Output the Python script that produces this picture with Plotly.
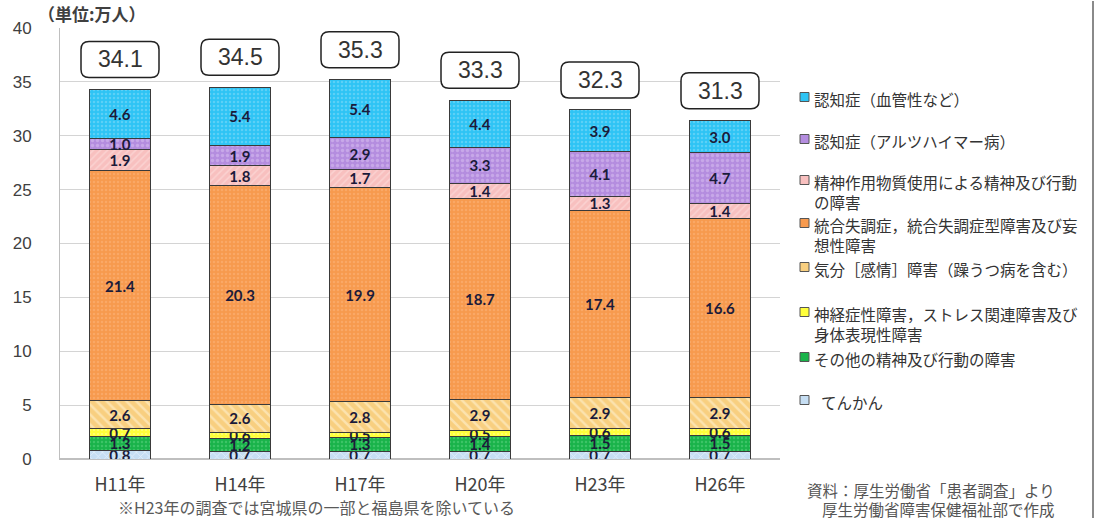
import plotly.graph_objects as go

years = ["H11年", "H14年", "H17年", "H20年", "H23年", "H26年"]
totals = [34.1, 34.5, 35.3, 33.3, 32.3, 31.3]

tenkan = [0.8, 0.7, 0.7, 0.7, 0.7, 0.7]
sonota = [1.3, 1.2, 1.3, 1.4, 1.5, 1.5]
shinkei = [0.7, 0.6, 0.5, 0.5, 0.6, 0.6]
kibun = [2.6, 2.6, 2.8, 2.9, 2.9, 2.9]
togo = [21.4, 20.3, 19.9, 18.7, 17.4, 16.6]
seishin = [1.9, 1.8, 1.7, 1.4, 1.3, 1.4]
alz = [1.0, 1.9, 2.9, 3.3, 4.1, 4.7]
kekkan = [4.6, 5.4, 5.4, 4.4, 3.9, 3.0]

series_names = [
    "てんかん",
    "その他の精神及び行動の障害",
    "神経症性障害，ストレス関連障害及び<br>身体表現性障害",
    "気分［感情］障害（躁うつ病を含む）",
    "統合失調症，統合失調症型障害及び妄<br>想性障害",
    "精神作用物質使用による精神及び行動<br>の障害",
    "認知症（アルツハイマー病）",
    "認知症（血管性など）",
]
series_values = [tenkan, sonota, shinkei, kibun, togo, seishin, alz, kekkan]

# style (bgcolor, fgcolor, shape, size, solidity)
styles = [
    ("#c6def3", "#ffffff", "x", 6, 0.25),
    ("#19b34a", "#5fd184", ".", 4, 0.3),
    ("#ffff3c", "#ffffc0", ".", 4, 0.2),
    ("#f8cf80", "#fff6dc", "\\", 7, 0.35),
    ("#f79a4e", "#fbb57e", ".", 4, 0.3),
    ("#f8c0bf", "#fde3e2", "/", 5, 0.3),
    ("#b48ddf", "#d9c4f2", ".", 5, 0.35),
    ("#2ec4f4", "#8adcf8", ".", 4, 0.3),
]
swatch_colors = ["#c6def3", "#19b34a", "#ffff3c", "#f8cf80", "#f79a4e", "#f8c0bf", "#b48ddf", "#2ec4f4"]

fig = go.Figure()
for name, vals, st in zip(series_names, series_values, styles):
    bg, fg, shp, sz, sol = st
    fig.add_trace(go.Bar(
        x=years, y=vals, name=name,
        width=0.51,
        marker=dict(color=bg, line=dict(color="#3a3a3a", width=1),
                    pattern=dict(shape=shp, bgcolor=bg, fgcolor=fg, size=sz,
                                 solidity=sol, fillmode="overlay")),
        text=[f"{v:.1f}" for v in vals],
        textposition="inside", insidetextanchor="middle", textangle=0,
        textfont=dict(family="Lato", size=15, color="#1b1b3a", weight="bold"),
        showlegend=False,
    ))

W, H = 1099, 519
L, R, T, B = 60, 319, 28, 60
pw, ph = W - L - R, H - T - B

def px2x(px):
    return (px - L) / pw

def px2y(py):
    return (H - B - py) / ph

# total boxes (rounded rectangles anchored at each total, pixel-sized)
box_path = ("M -31,48 L 31,48 Q 39,48 39,40 L 39,20 Q 39,12 31,12 "
            "L -31,12 Q -39,12 -39,20 L -39,40 Q -39,48 -31,48 Z")
for i, t in enumerate(totals):
    top = sum(v[i] for v in series_values)
    fig.add_shape(type="path", xref="x", yref="y", xsizemode="pixel", ysizemode="pixel",
                  xanchor=i, yanchor=top, path=box_path,
                  line=dict(color="#222222", width=1.5), fillcolor="white")
    fig.add_annotation(x=years[i], y=top, text=f"{t:.1f}",
                       showarrow=False, yshift=30, yanchor="middle",
                       font=dict(family="Liberation Sans", size=23, color="#333333"))

# legend (manual, fixed pitch rows like the original)
legend_rows_py = [97, 139, 180, 223, 267, 312, 357, 400]
legend_order = list(range(7, -1, -1))
for row_py, idx in zip(legend_rows_py, legend_order):
    fig.add_shape(type="rect", xref="paper", yref="paper",
                  x0=px2x(800), x1=px2x(809), y0=px2y(row_py + 4.5), y1=px2y(row_py - 4.5),
                  line=dict(color="#555555", width=1), fillcolor=swatch_colors[idx])
    label = series_names[idx]
    if idx == 0:
        label = "  " + label
    fig.add_annotation(xref="paper", yref="paper", x=px2x(812), y=px2y(row_py - 11),
                       xanchor="left", yanchor="top", align="left", showarrow=False,
                       text=label,
                       font=dict(family="Noto Sans CJK JP", size=15.5, color="#333333"))

# right border line
fig.add_shape(type="line", xref="paper", yref="paper", x0=px2x(1093), x1=px2x(1093),
              y0=px2y(518), y1=px2y(1), line=dict(color="#8a8a8a", width=2), layer="above")

# unit label
fig.add_annotation(xref="paper", yref="paper", x=px2x(36), y=px2y(14), xanchor="left",
                   yanchor="middle", showarrow=False, text="（単位:万人）",
                   font=dict(family="Noto Sans CJK JP", size=17, color="#404040", weight="bold"))

# footnote
fig.add_annotation(xref="paper", yref="paper", x=px2x(116), y=px2y(507), xanchor="left",
                   yanchor="middle", showarrow=False,
                   text="※H23年の調査では宮城県の一部と福島県を除いている",
                   font=dict(family="Noto Sans CJK JP", size=16, color="#5a5a5a"))

# source
fig.add_annotation(xref="paper", yref="paper", x=px2x(805), y=px2y(490), xanchor="left",
                   yanchor="middle", showarrow=False,
                   text="資料：厚生労働省「患者調査」より",
                   font=dict(family="Noto Sans CJK JP", size=15.5, color="#555555"))
fig.add_annotation(xref="paper", yref="paper", x=px2x(820), y=px2y(509), xanchor="left",
                   yanchor="middle", showarrow=False,
                   text="厚生労働省障害保健福祉部で作成",
                   font=dict(family="Noto Sans CJK JP", size=15.5, color="#555555"))

fig.update_layout(
    barmode="stack",
    width=W, height=H,
    margin=dict(l=L, r=R, t=T, b=B, autoexpand=False),
    paper_bgcolor="white", plot_bgcolor="white",
    uniformtext=dict(mode="show", minsize=15),
    font=dict(family="Noto Sans CJK JP", color="#404040"),
    showlegend=False,
)
fig.update_xaxes(
    type="category", showgrid=False, showline=True, linecolor="#bfbfbf", linewidth=1,
    ticks="outside", ticklen=9, tickcolor="rgba(0,0,0,0)",
    tickfont=dict(family="Noto Sans CJK JP", size=18, color="#404040"),
    range=[-0.5, 5.5],
)
fig.update_yaxes(
    range=[0, 40], dtick=5, showgrid=True, gridcolor="#d4d4d4", gridwidth=1,
    showline=True, linecolor="#bfbfbf", linewidth=1,
    zeroline=True, zerolinecolor="#bfbfbf",
    ticks="outside", ticklen=24, tickcolor="rgba(0,0,0,0)",
    tickfont=dict(family="Liberation Sans", size=17, color="#404040"),
)

fig.write_html("out.html", config={"displayModeBar": False},
               post_script="document.body.style.margin='0';document.body.style.overflow='hidden';")
